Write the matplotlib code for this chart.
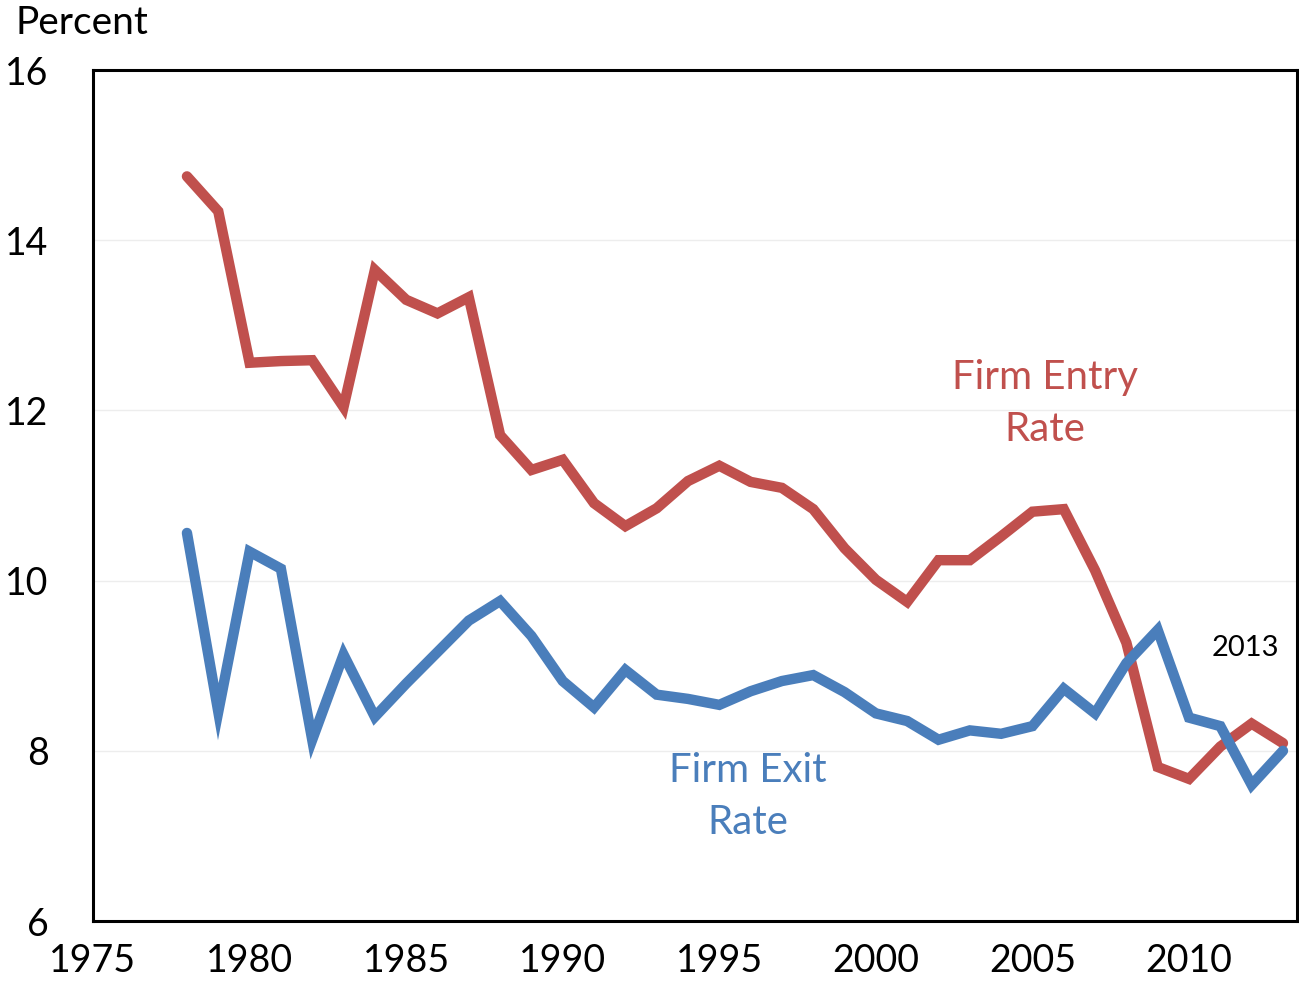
import matplotlib.pyplot as plt

years = list(range(1978, 2014))

entry_rate = [14.75, 14.34, 12.56, 12.58, 12.59, 12.04, 13.65, 13.30, 13.14, 13.33,
              11.71, 11.30, 11.42, 10.91, 10.64, 10.85, 11.17, 11.35, 11.16, 11.09,
              10.84, 10.38, 10.01, 9.75, 10.24, 10.24, 10.52, 10.81, 10.84, 10.12,
              9.27, 7.81, 7.67, 8.05, 8.32, 8.09]

exit_rate = [10.56, 8.46, 10.34, 10.14, 8.13, 9.13, 8.40, 8.79, 9.16, 9.53,
             9.76, 9.35, 8.82, 8.51, 8.95, 8.66, 8.61, 8.54, 8.70, 8.82,
             8.89, 8.69, 8.44, 8.35, 8.13, 8.24, 8.20, 8.29, 8.73, 8.44,
             9.03, 9.42, 8.39, 8.29, 7.60, 8.00]

x_ticks = [1975, 1980, 1985, 1990, 1995, 2000, 2005, 2010]
y_ticks = [6, 8, 10, 12, 14, 16]

RED = "#C0504D"
BLUE = "#4A7EBB"

plt.rcParams["font.family"] = ["Lato", "DejaVu Sans"]

fig = plt.figure(figsize=(12.99, 9.82), dpi=100)
ax = fig.add_axes([0.0716, 0.0621, 0.9269, 0.8666])

ax.plot(years, entry_rate, color=RED, lw=7.5, solid_joinstyle="miter", solid_capstyle="round", zorder=3)
ax.plot(years, exit_rate, color=BLUE, lw=7.5, solid_joinstyle="miter", solid_capstyle="round", zorder=3)

ax.set_xlim(1975, 2013.45)
ax.set_ylim(6, 16)
ax.set_xticks(x_ticks)
ax.set_yticks(y_ticks)
ax.tick_params(axis="both", length=0, labelsize=27)
ax.tick_params(axis="y", pad=32)
ax.tick_params(axis="x", pad=16)
for lbl in ax.get_yticklabels():
    lbl.set_horizontalalignment("right")

ax.grid(axis="y", color="#EDEDED", lw=1, zorder=0)
for sp in ax.spines.values():
    sp.set_linewidth(2.2)
    sp.set_color("black")

ax.text(2005.4, 12.08, "Firm Entry\nRate", color=RED, fontsize=29,
        ha="center", va="center", linespacing=1.5)
ax.text(1995.9, 7.46, "Firm Exit\nRate", color=BLUE, fontsize=29,
        ha="center", va="center", linespacing=1.5)
ax.text(2011.8, 9.21, "2013", color="black", fontsize=21, ha="center", va="center")

fig.text(0.012, 0.977, "Percent", fontsize=28, ha="left", va="center")

fig.savefig("out.png", dpi=100)
